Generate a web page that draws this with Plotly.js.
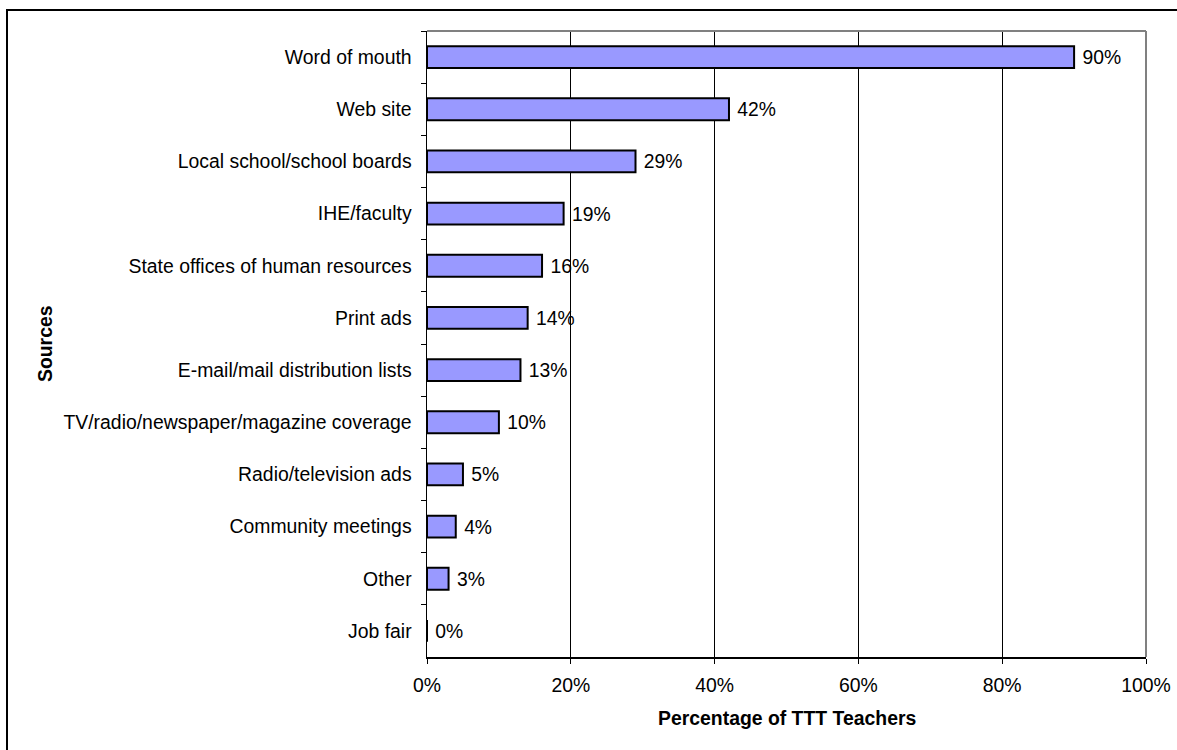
<!DOCTYPE html>
<html>
<head>
<meta charset="utf-8">
<script src="https://cdn.plot.ly/plotly-3.0.1.min.js"></script>
<style>
html,body{margin:0;padding:0;background:#fff;}
#wrap{position:relative;width:1177px;height:750px;overflow:hidden;}
#frame{position:absolute;left:6px;top:9px;width:1200px;height:800px;border-left:2.5px solid #000;border-top:2.5px solid #000;pointer-events:none;z-index:5;}
#chart{position:absolute;left:0;top:0;width:1177px;height:750px;}
</style>
</head>
<body>
<div id="wrap">
<div id="chart"></div>
<div id="frame"></div>
</div>
<script>
var sources = [
  "Word of mouth",
  "Web site",
  "Local school/school boards",
  "IHE/faculty",
  "State offices of human resources",
  "Print ads",
  "E-mail/mail distribution lists",
  "TV/radio/newspaper/magazine coverage",
  "Radio/television ads",
  "Community meetings",
  "Other",
  "Job fair"
];
var percents = [90, 42, 29, 19, 16, 14, 13, 10, 5, 4, 3, 0];
var xTickValues = [0, 20, 40, 60, 80, 100];
var xTickLabels = ["0%", "20%", "40%", "60%", "80%", "100%"];

var font = "Liberation Sans, Arial, sans-serif";
var fs = 19.4;

var trace = {
  type: "bar",
  orientation: "h",
  y: sources,
  x: percents,
  text: percents.map(function(v){ return "\u00a0" + v + "%"; }),
  textposition: "outside",
  cliponaxis: false,
  textfont: {family: font, size: fs, color: "#000"},
  marker: {color: "#9999FF", line: {color: "#000", width: 2}},
  hoverinfo: "none"
};

var layout = {
  width: 1177, height: 750,
  margin: {l: 427, r: 31, t: 31, b: 93, pad: 0},
  paper_bgcolor: "#fff", plot_bgcolor: "#fff",
  showlegend: false,
  bargap: 0.58,
  font: {family: font, size: fs, color: "#000"},
  xaxis: {
    range: [0, 100],
    tickvals: xTickValues,
    ticktext: xTickLabels,
    ticks: "outside", ticklen: 5, tickcolor: "#000", tickwidth: 1,
    ticklabelstandoff: 5,
    showgrid: true, gridcolor: "#000", gridwidth: 1,
    showline: true, linecolor: "#000", linewidth: 1.5,
    zeroline: false,
    tickfont: {family: font, size: fs, color: "#000"},
    fixedrange: true
  },
  yaxis: {
    type: "category",
    categoryorder: "array",
    categoryarray: sources,
    autorange: "reversed",
    tickson: "boundaries",
    ticks: "outside", ticklen: 5, tickcolor: "#000", tickwidth: 1,
    ticklabelstandoff: 10,
    showgrid: false,
    showline: true, linecolor: "#000", linewidth: 1.5,
    zeroline: false,
    tickfont: {family: font, size: fs, color: "#000"},
    fixedrange: true
  },
  shapes: [
    {type: "line", xref: "paper", yref: "paper", x0: 0, x1: 1, y0: 1, y1: 1, line: {color: "#808080", width: 2}},
    {type: "line", xref: "paper", yref: "paper", x0: 1, x1: 1, y0: 0, y1: 1, line: {color: "#808080", width: 2}}
  ],
  annotations: [
    {text: "<b>Percentage of TTT Teachers</b>", xref: "paper", yref: "paper", x: 0.5, y: 0, yshift: -61, xanchor: "center", yanchor: "middle", showarrow: false, font: {family: font, size: fs, color: "#000"}},
    {text: "<b>Sources</b>", xref: "paper", yref: "paper", x: 0, xshift: -382, y: 0.5, xanchor: "center", yanchor: "middle", textangle: -90, showarrow: false, font: {family: font, size: fs, color: "#000"}}
  ]
};

Plotly.newPlot("chart", [trace], layout, {displayModeBar: false, staticPlot: true});
</script>
</body>
</html>
